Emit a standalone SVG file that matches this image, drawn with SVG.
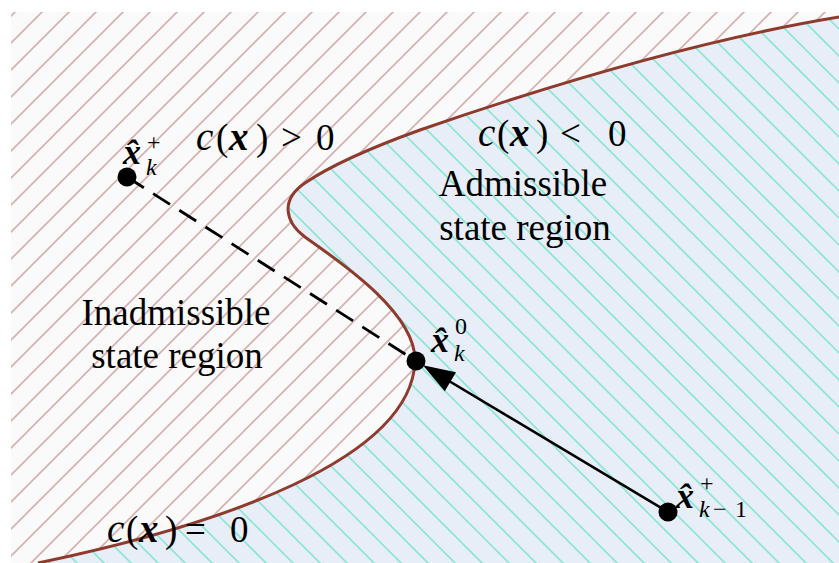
<svg xmlns="http://www.w3.org/2000/svg" width="839" height="563" viewBox="0 0 839 563">
<defs>
<style>
.lbl{font-family:"Liberation Serif","Times New Roman",serif;font-size:37px;fill:#000}
.m{font-family:"Liberation Serif","Times New Roman",serif;fill:#000;font-size:36px}
.it{font-style:italic}
.bi{font-style:italic;font-weight:bold}
.big{font-size:39px}
.pt{fill:#000}
.sub{font-size:24px}
</style>
<pattern id="hatchPink" patternUnits="userSpaceOnUse" width="27" height="27">
<rect width="27" height="27" fill="#fafafa"/>
<path d="M-3,3 L3,-3 M0,27 L27,0 M24,30 L30,24" stroke="#d6b0b0" stroke-width="1.6"/>
</pattern>
<pattern id="hatchCyan" patternUnits="userSpaceOnUse" width="27" height="27">
<rect width="27" height="27" fill="#e8eef8"/>
<path d="M-3,24 L3,30 M0,0 L27,27 M24,-3 L30,3" stroke="#8ce6d4" stroke-width="1.6"/>
</pattern>
<marker id="arr" viewBox="-24 -12 36 24" refX="0" refY="0" markerWidth="36" markerHeight="24" markerUnits="userSpaceOnUse" orient="auto">
<path d="M10,0 L-22,-11 L-22,11 Z" fill="#000"/>
</marker>
</defs>

<g id="inadmissible-region">
<rect x="11" y="12" width="828" height="551" fill="url(#hatchPink)"/>
</g>
<g id="admissible-region">
<path d="M38,563 C220,525 410,460 415,362 C417,315 345,265 305,237 C285,222 280,200 305,183 C330,166 370,148 420,130 C550,85 700,40 839,17 L839,563 Z" fill="url(#hatchCyan)"/>
</g>
<g id="boundary">
<path d="M38,563 C220,525 410,460 415,362 C417,315 345,265 305,237 C285,222 280,200 305,183 C330,166 370,148 420,130 C550,85 700,40 839,17 L845,16" fill="none" stroke="#8e3b2e" stroke-width="3"/>
</g>

<g id="connectors">
<line x1="127" y1="177" x2="416" y2="361" stroke="#000" stroke-width="2.8" stroke-dasharray="20 11"/>
<line x1="668" y1="512" x2="431.5" y2="370.5" stroke="#000" stroke-width="2.6" marker-end="url(#arr)"/>
</g>

<g id="point-xk-plus">
<circle class="pt" cx="127" cy="177" r="9.5"/>
<text class="m"><tspan class="bi" x="123" y="164">x̂</tspan><tspan class="sub" x="147" y="150">+</tspan><tspan class="sub it" x="146" y="175">k</tspan></text>
</g>
<g id="point-xk-0">
<circle class="pt" cx="416" cy="361" r="9.5"/>
<text class="m"><tspan class="bi" x="431" y="352">x̂</tspan><tspan class="sub" x="455" y="334">0</tspan><tspan class="sub it" x="454" y="361">k</tspan></text>
</g>
<g id="point-xk1-plus">
<circle class="pt" cx="668" cy="512" r="9.5"/>
<text class="m"><tspan class="bi" x="676" y="508">x̂</tspan><tspan class="sub" x="700" y="491">+</tspan><tspan class="sub it" x="699" y="517">k</tspan><tspan class="sub" x="713" y="517">−</tspan><tspan class="sub" x="735" y="517">1</tspan></text>
</g>

<g id="label-c-pos">
<text class="lbl"><tspan class="it big" x="196" y="150">c</tspan><tspan x="216" y="150">(</tspan><tspan class="bi big" x="229" y="150">x</tspan><tspan x="256" y="150">)</tspan><tspan x="281" y="150">&gt;</tspan><tspan x="316" y="150">0</tspan></text>
</g>
<g id="label-c-neg">
<text class="lbl"><tspan class="it big" x="478" y="146">c</tspan><tspan x="497" y="146">(</tspan><tspan class="bi big" x="510" y="146">x</tspan><tspan x="536" y="146">)</tspan><tspan x="560" y="146">&lt;</tspan><tspan x="608" y="146">0</tspan></text>
</g>
<g id="label-c-zero">
<text class="lbl"><tspan class="it big" x="107" y="542">c</tspan><tspan x="126" y="542">(</tspan><tspan class="bi big" x="139" y="542">x</tspan><tspan x="165" y="542">)</tspan><tspan x="185" y="542">=</tspan><tspan x="230" y="542">0</tspan></text>
</g>
<g id="label-admissible">
<text class="lbl" text-anchor="middle"><tspan x="523" y="196">Admissible</tspan><tspan x="525" y="240">state region</tspan></text>
</g>
<g id="label-inadmissible">
<text class="lbl" text-anchor="middle"><tspan x="176" y="325">Inadmissible</tspan><tspan x="177" y="368">state region</tspan></text>
</g>
</svg>
